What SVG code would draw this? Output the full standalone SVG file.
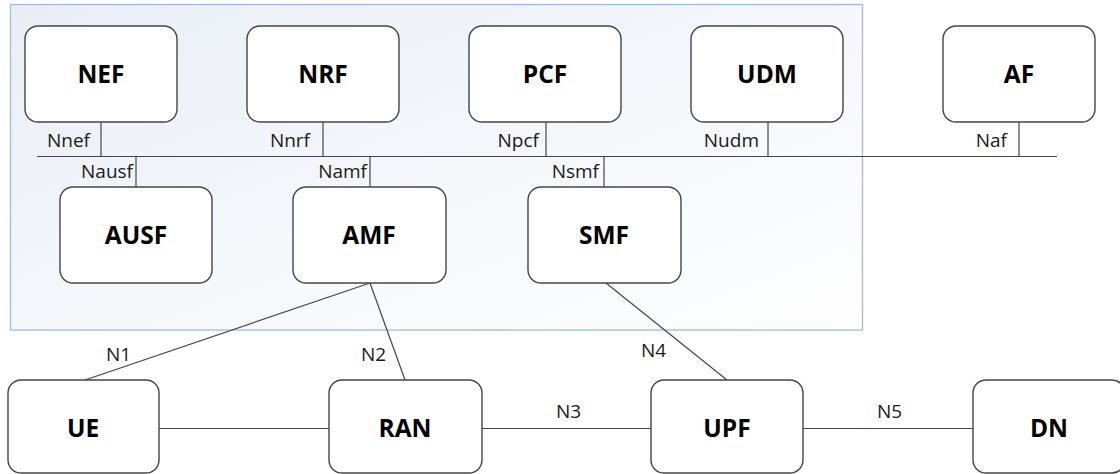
<svg xmlns="http://www.w3.org/2000/svg" width="1120" height="474" viewBox="0 0 1120 474">
  <defs>
    <linearGradient id="coreFill" x1="0" y1="0" x2="1" y2="1">
      <stop offset="0" stop-color="#e9eef6"/>
      <stop offset="1" stop-color="#ffffff"/>
    </linearGradient>
    <style>
      .nf { fill: #ffffff; stroke: #454545; stroke-width: 1.4; }
      .name { font-family: "Open Sans", "Liberation Sans", sans-serif; font-weight: bold; font-size: 24.5px; fill: #000000; text-anchor: middle; }
      .ref { font-family: "Open Sans", "Liberation Sans", sans-serif; font-size: 19px; fill: #1a1a1a; }
      .end { text-anchor: end; }
      .link { stroke: #454545; stroke-width: 1.2; fill: none; }
    </style>
  </defs>

  <rect width="1120" height="474" fill="#ffffff"/>

  <!-- 5G core boundary -->
  <rect id="core" x="10.5" y="4.5" width="852" height="325.5" fill="url(#coreFill)" stroke="#9dbce0" stroke-width="1.3"/>

  <!-- connectors: service bus, reference points -->
  <g id="connectors" class="link">
    <line x1="37" y1="156.5" x2="1057" y2="156.5"/>
    <line x1="101" y1="122" x2="101" y2="156.5"/>
    <line x1="323" y1="122" x2="323" y2="156.5"/>
    <line x1="546" y1="122" x2="546" y2="156.5"/>
    <line x1="768" y1="122" x2="768" y2="156.5"/>
    <line x1="1019" y1="122" x2="1019" y2="156.5"/>
    <line x1="136" y1="156.5" x2="136" y2="187"/>
    <line x1="370" y1="156.5" x2="370" y2="187"/>
    <line x1="604" y1="156.5" x2="604" y2="187"/>
    <line x1="370" y1="283" x2="85" y2="380"/>
    <line x1="370" y1="283" x2="405" y2="380"/>
    <line x1="606" y1="283" x2="727" y2="380"/>
    <line x1="159" y1="428.5" x2="329" y2="428.5"/>
    <line x1="482" y1="428.5" x2="651" y2="428.5"/>
    <line x1="803" y1="428.5" x2="973" y2="428.5"/>
  </g>

  <!-- service interface labels -->
  <g id="interface-labels" class="ref end">
    <text x="90" y="147">Nnef</text>
    <text x="310" y="147">Nnrf</text>
    <text x="539" y="147">Npcf</text>
    <text x="759" y="147">Nudm</text>
    <text x="1007" y="147">Naf</text>
    <text x="133" y="178">Nausf</text>
    <text x="367" y="178">Namf</text>
    <text x="599" y="178">Nsmf</text>
  </g>

  <!-- reference point labels -->
  <g id="reference-labels" class="ref">
    <text x="106" y="361">N1</text>
    <text x="361" y="361">N2</text>
    <text x="556" y="418">N3</text>
    <text x="641" y="357">N4</text>
    <text x="877" y="418">N5</text>
  </g>

  <!-- control plane functions -->
  <g id="NEF"><rect class="nf" x="25" y="26" width="152" height="96" rx="13"/><text class="name" x="101" y="83">NEF</text></g>
  <g id="NRF"><rect class="nf" x="247" y="26" width="152" height="96" rx="13"/><text class="name" x="323" y="83">NRF</text></g>
  <g id="PCF"><rect class="nf" x="469" y="26" width="152" height="96" rx="13"/><text class="name" x="545" y="83">PCF</text></g>
  <g id="UDM"><rect class="nf" x="691" y="26" width="152" height="96" rx="13"/><text class="name" x="767" y="83">UDM</text></g>
  <g id="AF"><rect class="nf" x="943" y="26" width="152" height="96" rx="13"/><text class="name" x="1019" y="83">AF</text></g>
  <g id="AUSF"><rect class="nf" x="60" y="187" width="152" height="96" rx="13"/><text class="name" x="136" y="244">AUSF</text></g>
  <g id="AMF"><rect class="nf" x="293" y="187" width="153" height="96" rx="13"/><text class="name" x="369" y="244">AMF</text></g>
  <g id="SMF"><rect class="nf" x="528" y="187" width="153" height="96" rx="13"/><text class="name" x="604" y="244">SMF</text></g>

  <!-- user plane -->
  <g id="UE"><rect class="nf" x="8" y="380" width="151" height="93" rx="13"/><text class="name" x="83" y="437">UE</text></g>
  <g id="RAN"><rect class="nf" x="329" y="380" width="153" height="93" rx="13"/><text class="name" x="405" y="437">RAN</text></g>
  <g id="UPF"><rect class="nf" x="651" y="380" width="152" height="93" rx="13"/><text class="name" x="727" y="437">UPF</text></g>
  <g id="DN"><rect class="nf" x="973" y="380" width="152" height="93" rx="13"/><text class="name" x="1049" y="437">DN</text></g>
</svg>
